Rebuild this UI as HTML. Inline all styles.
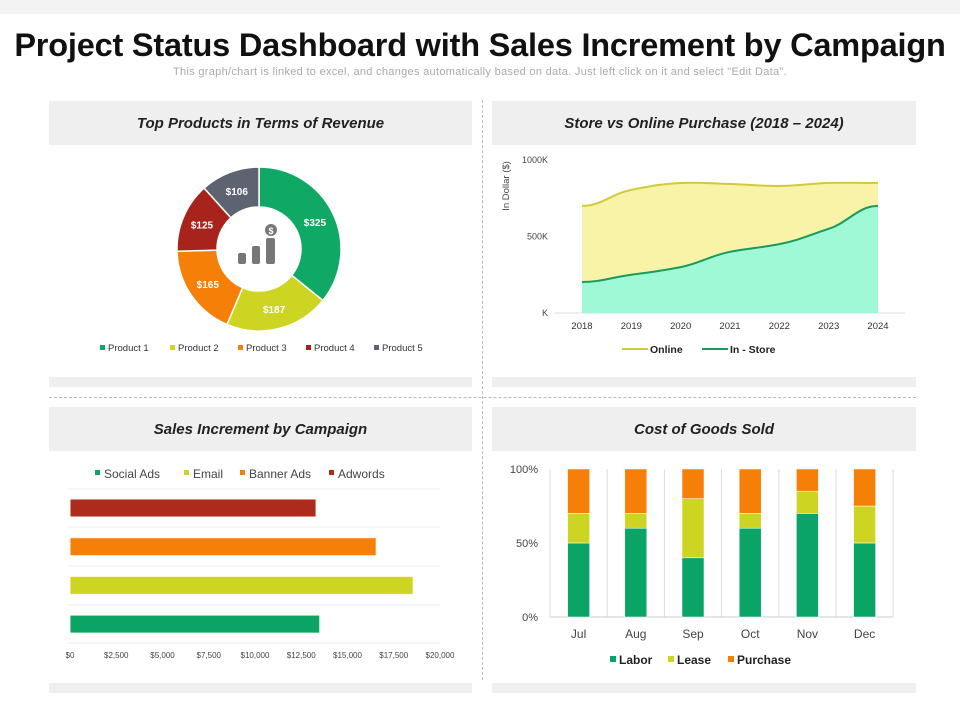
<!DOCTYPE html>
<html><head><meta charset="utf-8"><style>
body{margin:0;width:960px;height:720px;background:#fff;font-family:"Liberation Sans",sans-serif;overflow:hidden;position:relative}
.hd{position:absolute;background:#efefef;display:flex;align-items:center;justify-content:center;font-style:italic;font-weight:bold;font-size:15px;color:#222}
.strip{position:absolute;background:#efefef;height:10px}
svg text{font-family:"Liberation Sans",sans-serif}
</style></head><body>
<div style="position:absolute;left:0;top:0;width:960px;height:14px;background:#f3f3f3"></div>
<div style="position:absolute;left:0;top:27px;width:960px;text-align:center;font-size:32.5px;font-weight:bold;color:#111;letter-spacing:-0.2px">Project Status Dashboard with Sales Increment by Campaign</div>
<div style="position:absolute;left:0;top:66px;width:960px;text-align:center;font-size:11px;color:#aaa;letter-spacing:0.3px">This graph/chart is linked to excel, and changes automatically based on data. Just left click on it and select "Edit Data".</div>
<div class="hd" style="left:49px;top:101px;width:423px;height:44px">Top Products in Terms of Revenue</div>
<div class="hd" style="left:492px;top:101px;width:424px;height:44px">Store vs Online Purchase (2018 – 2024)</div>
<div class="hd" style="left:49px;top:407px;width:423px;height:44px">Sales Increment by Campaign</div>
<div class="hd" style="left:492px;top:407px;width:424px;height:44px">Cost of Goods Sold</div>
<div class="strip" style="left:49px;top:377px;width:423px"></div>
<div class="strip" style="left:492px;top:377px;width:424px"></div>
<div class="strip" style="left:49px;top:683px;width:423px"></div>
<div class="strip" style="left:492px;top:683px;width:424px"></div>
<div style="position:absolute;left:482px;top:100px;height:580px;border-left:1px dashed #bbb"></div>
<div style="position:absolute;left:49px;top:397px;width:867px;border-top:1px dashed #bbb"></div>
<svg id="s" width="960" height="720" style="position:absolute;left:0;top:0"></svg>
<script>
// Donut
const products=["Product 1","Product 2","Product 3","Product 4","Product 5"];
const revenue=[325,187,165,125,106];
const pColors=["#10a865","#cdd522","#f57f07","#a8231c","#5d6370"];
// Area
const years=["2018","2019","2020","2021","2022","2023","2024"];
const online=[700,805,850,843,830,850,850];
const inStore=[203,250,300,400,450,550,700];
// Campaign bars
const campaigns=["Adwords","Banner Ads","Email","Social Ads"];
const campaignVals=[13300,16550,18550,13500];
const campColors=["#ad2a1d","#f57f07","#cdd522","#0aa566"];
const campTicks=[0,2500,5000,7500,10000,12500,15000,17500,20000];
// COGS
const months=["Jul","Aug","Sep","Oct","Nov","Dec"];
const labor=[50,60,40,60,70,50];
const lease=[20,10,40,10,15,25];
const purchase=[30,30,20,30,15,25];

const S=document.getElementById('s');const NS="http://www.w3.org/2000/svg";
function mk(t,a,p){const e=document.createElementNS(NS,t);for(const k in a)e.setAttribute(k,a[k]);(p||S).appendChild(e);return e;}
function tx(x,y,s,a,p){const e=mk('text',Object.assign({x:x,y:y},a),p);e.textContent=s;return e;}

// Donut
const cx=259,cy=249,R=82,r=42;const tot=revenue.reduce((a,b)=>a+b,0);let ang=0;
revenue.forEach((v,i)=>{const a0=ang,a1=ang+v/tot*2*Math.PI;ang=a1;
 const P=(rad,a)=>[cx+rad*Math.sin(a),cy-rad*Math.cos(a)];const L=(a1-a0)>Math.PI?1:0;
 const[x0,y0]=P(R,a0),[x1,y1]=P(R,a1),[x2,y2]=P(r,a1),[x3,y3]=P(r,a0);
 const e=mk('path',{d:`M${x0},${y0}A${R},${R} 0 ${L} 1 ${x1},${y1}L${x2},${y2}A${r},${r} 0 ${L} 0 ${x3},${y3}Z`,fill:pColors[i],stroke:'#fff','stroke-width':1.5});
 
 
 const am=(a0+a1)/2;const[lx,ly]=P((R+r)/2,am);
 const t=tx(lx,ly+4,'$'+v,{fill:'#fff','font-size':10,'font-weight':'bold','text-anchor':'middle'});
 
 
});
const ic=mk('g',{fill:'#777'});
mk('rect',{x:238,y:253,width:8,height:11,rx:2},ic);mk('rect',{x:252,y:246,width:8,height:18,rx:2},ic);mk('rect',{x:266,y:238,width:9,height:26,rx:2},ic);
mk('circle',{cx:271,cy:230,r:6},ic);tx(271,234,'$',{fill:'#fff','font-size':9,'text-anchor':'middle','font-weight':'bold'},ic);
let lx=100;products.forEach((p,i)=>{const g=mk('g',{});
 mk('rect',{x:lx,y:345,width:5,height:5,fill:pColors[i]},g);tx(lx+8,351,p,{'font-size':9.5,fill:'#333'},g);lx+=68+ (i==0?2:0);});

// Area chart
const ax0=582,ax1=878,ay0=313,ay1=160;
const X=i=>ax0+i*(ax1-ax0)/(years.length-1),Y=v=>ay0-v/1000*(ay0-ay1);
function smooth(vals){let d=`M${X(0)},${Y(vals[0])}`;for(let i=1;i<vals.length;i++){const xa=X(i-1),xb=X(i),m=(xb-xa)/2.5;d+=`C${xa+m},${Y(vals[i-1])+(i>1?(Y(vals[i])-Y(vals[i-2]))/6:0)} ${xb-m},${Y(vals[i])-(i<vals.length-1?(Y(vals[i+1])-Y(vals[i-1]))/6:0)} ${xb},${Y(vals[i])}`;}return d;}
mk('line',{x1:555,y1:ay0,x2:905,y2:ay0,stroke:'#ddd'});
const oa=mk('path',{d:smooth(online)+`L${X(6)},${ay0}L${X(0)},${ay0}Z`,fill:'#f8f3a6'});
const ol=mk('path',{d:smooth(online),fill:'none',stroke:'#cfcb3a','stroke-width':2});
const sa=mk('path',{d:smooth(inStore)+`L${X(6)},${ay0}L${X(0)},${ay0}Z`,fill:'#9ff8d6'});
const sl=mk('path',{d:smooth(inStore),fill:'none',stroke:'#1a9a5c','stroke-width':2});
[[0,'K'],[500,'500K'],[1000,'1000K']].forEach(([v,l])=>tx(548,Y(v)+3,l,{'font-size':9,fill:'#444','text-anchor':'end'}));
years.forEach((y,i)=>tx(X(i),329,y,{'font-size':9.5,fill:'#333','text-anchor':'middle'}));
const yt=tx(0,0,'In Dollar ($)',{'font-size':9.5,fill:'#444',transform:'translate(509,186) rotate(-90)','text-anchor':'middle'});
mk('line',{x1:622,y1:349,x2:648,y2:349,stroke:'#cfcb3a','stroke-width':2});tx(650,353,'Online',{'font-size':10.5,'font-weight':'bold',fill:'#222'});
mk('line',{x1:702,y1:349,x2:728,y2:349,stroke:'#1a9a5c','stroke-width':2});tx(730,353,'In - Store',{'font-size':10.5,'font-weight':'bold',fill:'#222'});

// Campaign bars
const bx0=70,bx1=440,BX=v=>bx0+v/20000*(bx1-bx0);
[489,527,566,605,643].forEach(y=>mk('line',{x1:68,y1:y,x2:440,y2:y,stroke:'#eee'}));
campaigns.forEach((c,i)=>{const yc=508+i*38.7;const b=mk('rect',{x:bx0,y:yc-9,width:BX(campaignVals[i])-bx0,height:18,fill:campColors[i],stroke:'#fff8e6','stroke-width':1});
 });
campTicks.forEach(v=>tx(BX(v),658,'$'+v.toLocaleString('en-US'),{'font-size':8,fill:'#444','text-anchor':'middle'}));
const leg=[["Social Ads",3],["Email",2],["Banner Ads",1],["Adwords",0]];let gx=95;
leg.forEach(([n,ci])=>{const g=mk('g',{});
 mk('rect',{x:gx,y:470,width:5,height:5,fill:campColors[ci]},g);tx(gx+9,478,n,{'font-size':12,fill:'#444'},g);gx+=9+n.length*6.6+14;});

// COGS
const cy0=617,cy1=469,CY=v=>cy0-v/100*(cy0-cy1),cx0=550,cw=57.2;
for(let i=0;i<=6;i++)mk('line',{x1:cx0+i*cw,y1:cy1,x2:cx0+i*cw,y2:cy0,stroke:'#ddd'});
mk('line',{x1:cx0,y1:cy0,x2:893,y2:cy0,stroke:'#ccc'});
[[0,'0%'],[50,'50%'],[100,'100%']].forEach(([v,l])=>tx(538,CY(v)+4,l,{'font-size':11,fill:'#444','text-anchor':'end'}));
months.forEach((m,i)=>{const x=cx0+cw*(i+0.5)-11;let base=0;
 [[labor[i],'#0aa566','labor'],[lease[i],'#cdd522','lease'],[purchase[i],'#f57f07','purchase']].forEach(([v,c,n])=>{
  const b=mk('rect',{x:x,y:CY(base+v),width:22,height:CY(base)-CY(base+v),fill:c,stroke:'#fff','stroke-width':0.5});
  base+=v;});
 tx(x+11,638,m,{'font-size':12,fill:'#444','text-anchor':'middle'});});
[["Labor",'#0aa566',610],["Lease",'#cdd522',668],["Purchase",'#f57f07',728]].forEach(([n,c,x])=>{const g=mk('g',{});
 mk('rect',{x:x,y:656,width:6,height:6,fill:c},g);tx(x+9,664,n,{'font-size':12,'font-weight':'bold',fill:'#222'},g);});
</script>
</body></html>
